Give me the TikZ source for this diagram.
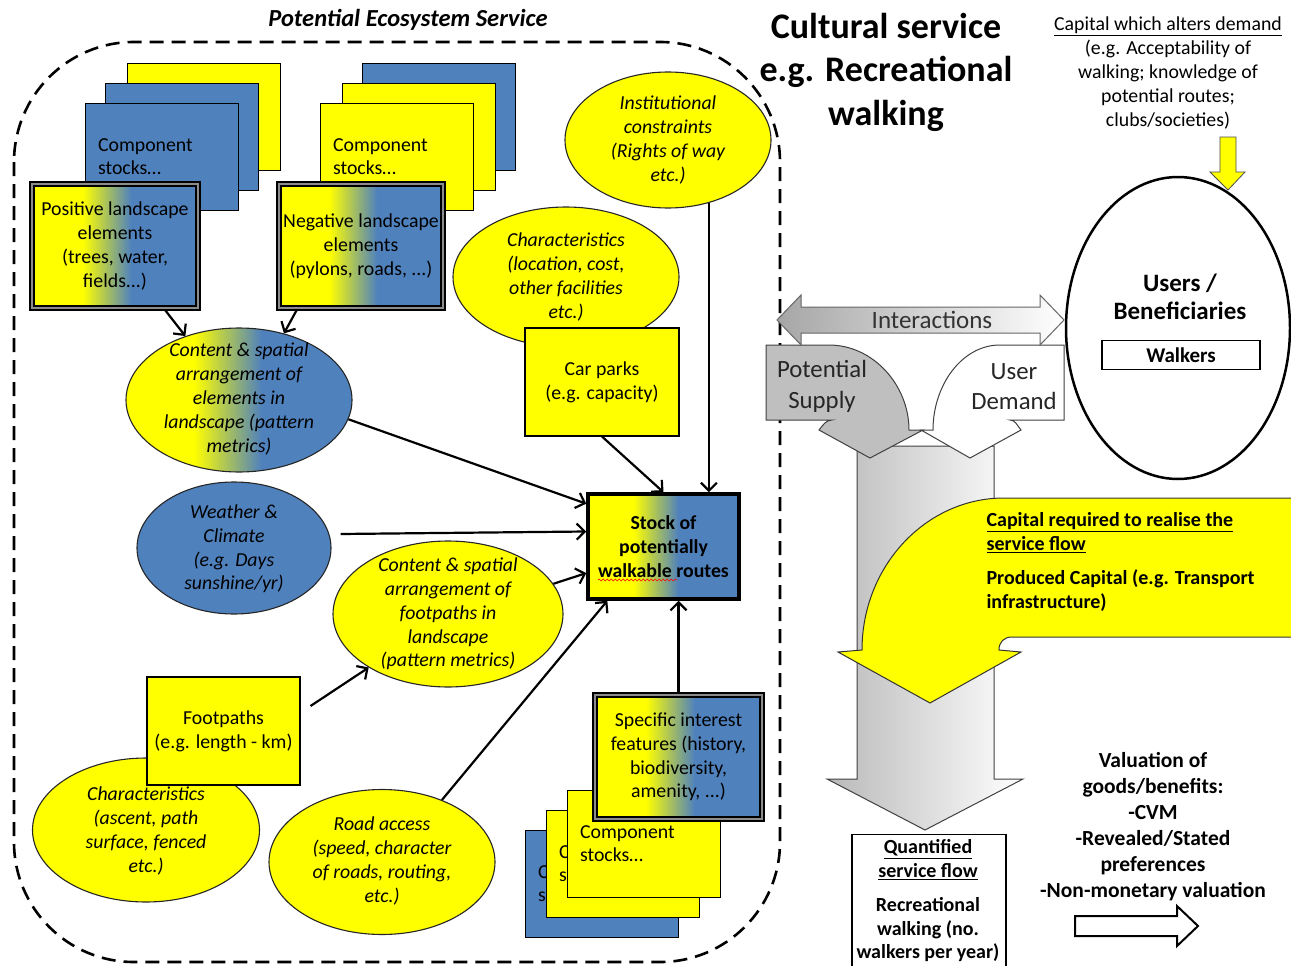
\documentclass[tikz,border=0pt]{standalone}
\usepackage{fontspec}
\setmainfont{Carlito}
\usetikzlibrary{shapes.geometric,arrows.meta,decorations.pathmorphing}
\definecolor{yel}{HTML}{FFFF00}
\definecolor{blu}{HTML}{4F81BD}
\pgfdeclarehorizontalshading{ybshade}{100bp}{color(0bp)=(yel); color(40bp)=(yel); color(55bp)=(blu); color(100bp)=(blu)}
\newcommand\myfs[2]{\fontsize{#1}{#2}\selectfont}
\begin{document}
\begin{tikzpicture}[x=1pt,y=-1pt,
  txt/.style={font=\myfs{19.8}{23.8}, align=center, inner sep=0pt},
  itx/.style={font=\myfs{19.8}{23.8}\itshape, align=center, inner sep=0pt},
  card/.style={draw=black, line width=1.1pt, minimum width=153pt, minimum height=107pt, anchor=north west, inner sep=0pt, text width=128pt, align=left, font=\myfs{19.8}{23}},
  ell/.style={ellipse, draw=black!85, line width=1.1pt, inner sep=0pt},
  box/.style={draw=black, line width=1.1pt, inner sep=0pt, align=center, font=\myfs{19.8}{23.8}},
  framebox/.style={draw=black, line width=1.1pt, fill=black!45, inner sep=0pt},
  grad/.style={draw=black, line width=1.1pt, shade, shading=ybshade, inner sep=0pt, align=center, font=\myfs{19.8}{23.8}},
  arr/.style={draw=black, line width=2.2pt, -{Straight Barb[length=8pt,width=16pt]}},
  pesline/.style={draw=black, line width=2.6pt, dash pattern=on 14pt off 8pt, rounded corners=120pt},
  shape3d/.style={draw=black!75, line width=1pt},
]
\useasboundingbox (0,0) rectangle (1291,966);

% ---- title
\node[font=\myfs{24.5}{28}\bfseries\itshape] (pestitle) at (408,20) {Potential Ecosystem Service};

% ---- positive stack
\node[card, fill=yel] (p1) at (127,63) {};
\node[card, fill=blu] (p2) at (105,83) {};
\node[card, fill=blu] (p3) at (85,103) {Component\\stocks…};
\node[framebox, minimum width=170pt, minimum height=128pt] (pos) at (115,246) {};
\node[grad, minimum width=162pt, minimum height=120pt] (posin) at (pos) {Positive landscape\\elements\\(trees, water,\\fields...)};

% ---- negative stack
\node[card, fill=blu] (n1) at (362,63) {};
\node[card, fill=yel] (n2) at (342,83) {};
\node[card, fill=yel] (n3) at (320,103) {Component\\stocks…};
\node[framebox, minimum width=168pt, minimum height=128pt] (neg) at (361,246) {};
\node[grad, minimum width=160pt, minimum height=120pt] (negin) at (neg) {Negative landscape\\elements\\(pylons, roads, ...)};

% ---- ellipses and boxes
\node[ell, fill=yel, minimum width=206pt, minimum height=136pt] (inst) at (668,140) {};
\node[itx] (instT) at (inst) {Institutional\\constraints\\(Rights of way\\etc.)};

\node[ell, fill=yel, minimum width=226pt, minimum height=140pt] (charA) at (566,277) {};
\node[itx] (charAT) at (566,277) {Characteristics\\(location, cost,\\other facilities\\etc.)};

\node[box, fill=yel, minimum width=154pt, minimum height=108pt] (car) at (602,382) {Car parks\\(e.g. capacity)};

\node[ell, shade, shading=ybshade, minimum width=226pt, minimum height=144pt] (content) at (239,400) {};
\node[itx] (contentT) at (239,399) {Content \& spatial\\arrangement of\\elements in\\landscape (pattern\\metrics)};

\node[ell, fill=blu, minimum width=194pt, minimum height=132pt] (weather) at (234,548) {};
\node[itx] (weatherT) at (234,549) {Weather \&\\Climate\\(e.g. Days\\sunshine/yr)};

\node[ell, fill=yel, minimum width=230pt, minimum height=146pt] (fpell) at (448,614) {};
\node[itx] (fpellT) at (448,614) {Content \& spatial\\arrangement of\\footpaths in\\landscape\\(pattern metrics)};

\node[grad, line width=3.5pt, minimum width=151pt, minimum height=105pt, font=\myfs{19.8}{24}\bfseries] (stock) at (663.5,546.5) {Stock of\\potentially\\walkable routes};
\draw[red, line width=0.6pt, decorate, decoration={snake, amplitude=0.9pt, segment length=4pt}] (598,580) -- (677,580);

\node[ell, fill=yel, minimum width=227pt, minimum height=144pt] (charB) at (146,830) {};
\node[itx] (charBT) at (146,831) {Characteristics\\(ascent, path\\surface, fenced\\etc.)};
\node[box, fill=yel, minimum width=153pt, minimum height=108pt] (fbox) at (223.5,731) {Footpaths\\(e.g. length - km)};

\node[ell, fill=yel, minimum width=226pt, minimum height=145pt] (road) at (382,862) {};
\node[itx] (roadT) at (382,861) {Road access\\(speed, character\\of roads, routing,\\etc.)};

% ---- bottom stack + specific features (only the visible letters of the back cards)
\node[card, fill=blu] (b1) at (525,830) {C\\s};
\node[card, fill=yel] (b2) at (546,810) {C\\s};
\node[card, fill=yel] (b3) at (567,790) {Component\\stocks…};
\node[framebox, minimum width=171pt, minimum height=128pt] (spec) at (678.5,757) {};
\node[grad, minimum width=163pt, minimum height=120pt] (specin) at (spec) {Specific interest\\features (history,\\biodiversity,\\amenity, ...)};

% ---- arrows
\draw[arr] (pos.-52) -- (content.130);
\draw[arr] (neg.-135) -- (content.56);
\draw[arr] (content.-10) -- (stock.151);
\draw[arr] ([xshift=9pt,yshift=14pt]weather.east) -- ([yshift=15pt]stock.west);
\draw[arr] (fpell.16) -- (stock.199);
\draw[arr] ([xshift=10pt,yshift=25pt]fbox.east) -- (fpell.214);
\draw[arr] (road.46) -- (stock.-136);
\draw[arr] (car.south) -- (stock.north);
\draw[arr] (inst.-57) -- (stock.north -| inst.-57);
\draw[arr] (spec.north) -- (stock.south -| spec.north);

% ---- dashed boundary
\draw[pesline] (14,42) rectangle (780,962);

% ---- right side
\node[font=\myfs{36}{43.5}\bfseries, align=center] (cult) at (886,72) {Cultural service\\e.g. Recreational\\walking};
\node[txt] (capdem) at (1168,73) {\underline{Capital which alters demand}\\(e.g. Acceptability of\\walking; knowledge of\\potential routes;\\clubs/societies)};
\draw[draw=black!70, line width=0.8pt, fill=yel] (1220,137) -- (1236,137) -- (1236,172) -- (1245,172) -- (1228,190) -- (1210,172) -- (1220,172) -- cycle;

\node[ellipse, draw=black, line width=2.5pt, minimum width=224pt, minimum height=302pt, inner sep=0pt] (users) at (1178,328) {};
\node[font=\myfs{25}{28}\bfseries, align=center] (usersT) at (1180,297) {Users /\\Beneficiaries};
\node[draw=black, line width=1.1pt, minimum width=158pt, minimum height=29pt, font=\myfs{21}{22}\bfseries, inner sep=0pt] (walkers) at (1181,355) {Walkers};

% big grey flow arrow
\draw[shape3d, left color=gray!55, right color=white] (857,446) -- (994,446) -- (994,779) -- (1023,779) -- (925,830) -- (827,779) -- (857,779) -- cycle;
% potential supply
\draw[shape3d, fill=gray!50] (766,345) -- (829,345) .. controls (873,345) and (909,385) .. (909,430) -- (923,430) -- (870,458) -- (819,430) .. controls (823,425) and (826,420) .. (832,420) -- (766,420) -- cycle;
\node[font=\myfs{24.8}{31}, align=center, text=black!85] (supT) at (822,386) {Potential\\Supply};
% user demand
\draw[shape3d, fill=white] (1064,345) -- (1000,345) .. controls (962,345) and (933,385) .. (933,430) -- (921,430) -- (970,458) -- (1021,430) .. controls (1017,425) and (1015,420) .. (1010,420) -- (1064,420) -- cycle;
\node[font=\myfs{24.8}{30}, align=center, text=black!85] (demT) at (1014,387) {User\\Demand};
% interactions
\draw[draw=black!60, line width=1pt, left color=gray!70, right color=white] (777,320) -- (801,295) -- (801,307) -- (1040,307) -- (1040,295) -- (1064,320) -- (1040,345) -- (1040,333) -- (801,333) -- (801,345) -- cycle;
\node[font=\myfs{25}{26}, text=black!80] (inter) at (932,320) {Interactions};

% yellow capital arrow
\draw[draw=black!80, line width=1pt, fill=yel] (1292,498) -- (1004,498) .. controls (926,498) and (862,566) .. (862,650) -- (838,652) -- (930,703) -- (1021,652) -- (999,650) .. controls (999,642) and (1004,637) .. (1012,637) -- (1292,637) -- cycle;
\node[font=\myfs{20}{23.5}\bfseries, align=left, anchor=west] (capT) at (983,562) {\underline{Capital required to realise the}\\\underline{service flow}\\[11pt]Produced Capital (e.g. Transport\\infrastructure)};

% quantified flow
\node[draw=black, line width=1.1pt, minimum width=154pt, minimum height=134pt, anchor=north, inner sep=0pt] (qbox) at (929,834) {};
\node[font=\myfs{20}{23.5}\bfseries, align=center] (qT) at (928,901) {\underline{Quantified}\\\underline{service flow}\\[11pt]Recreational\\walking (no.\\walkers per year)};

% valuation
\node[font=\myfs{21.5}{26}\bfseries, align=center] (valu) at (1153,827) {Valuation of\\goods/benefits:\\-CVM\\-Revealed/Stated\\preferences\\-Non-monetary valuation};
\draw[draw=black, line width=2pt, fill=white] (1075,916) -- (1177,916) -- (1177,906) -- (1198,926) -- (1177,946) -- (1177,936) -- (1075,936) -- cycle;
\end{tikzpicture}
\end{document}
